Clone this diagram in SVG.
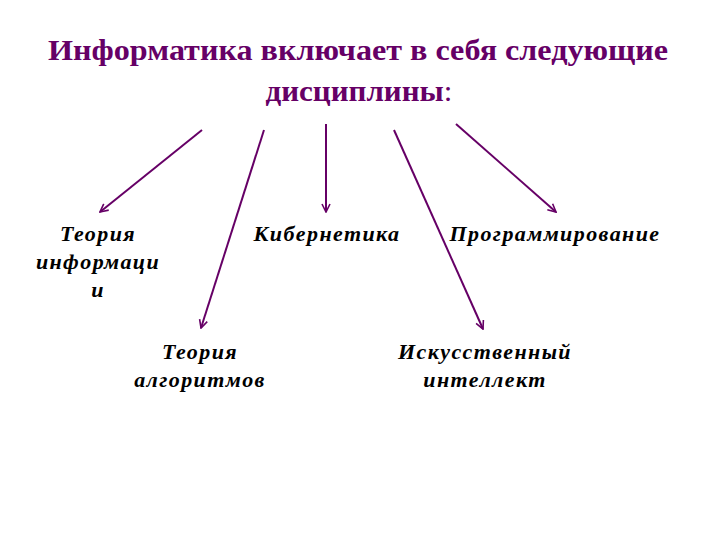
<svg xmlns="http://www.w3.org/2000/svg" width="720" height="540" viewBox="0 0 720 540">
<style>
.title{font-family:"Liberation Serif","Times New Roman",serif;font-weight:bold;font-size:29px;fill:#660066;text-anchor:middle}
.lbl{font-family:"Liberation Serif","Times New Roman",serif;font-weight:bold;font-style:italic;font-size:22px;fill:#000;text-anchor:middle;letter-spacing:1.4px}
.arr{stroke:#660066;stroke-width:2;fill:none;marker-end:url(#ah)}
</style>
<defs>
<marker id="ah" viewBox="0 0 10 10" refX="9" refY="5" markerWidth="5" markerHeight="5" orient="auto" markerUnits="strokeWidth">
<path d="M1,1 L9,5 L1,9" fill="none" stroke="#660066" stroke-width="1.6"/>
</marker>
</defs>
<rect width="720" height="540" fill="#fff"/>
<g id="title">
<text class="title" x="358" y="60" textLength="620" lengthAdjust="spacingAndGlyphs">Информатика включает в себя следующие</text>
<text class="title" x="359" y="101" textLength="187" lengthAdjust="spacingAndGlyphs">дисциплины<tspan font-weight="normal">:</tspan></text>
</g>
<g id="connectors">
<line class="arr" x1="202" y1="130" x2="100" y2="212"/>
<line class="arr" x1="264" y1="130" x2="201" y2="328"/>
<line class="arr" x1="326" y1="124" x2="326" y2="212"/>
<line class="arr" x1="394" y1="130" x2="483" y2="329"/>
<line class="arr" x1="456" y1="124" x2="556" y2="212"/>
</g>
<g id="n1"><text class="lbl" x="98" y="241">Теория</text><text class="lbl" x="98" y="269">информаци</text><text class="lbl" x="98" y="297">и</text></g>
<g id="n2"><text class="lbl" x="327" y="241">Кибернетика</text></g>
<g id="n3"><text class="lbl" x="555" y="241">Программирование</text></g>
<g id="n4"><text class="lbl" x="200" y="359">Теория</text><text class="lbl" x="200" y="387">алгоритмов</text></g>
<g id="n5"><text class="lbl" x="485" y="359">Искусственный</text><text class="lbl" x="485" y="387">интеллект</text></g>
</svg>
